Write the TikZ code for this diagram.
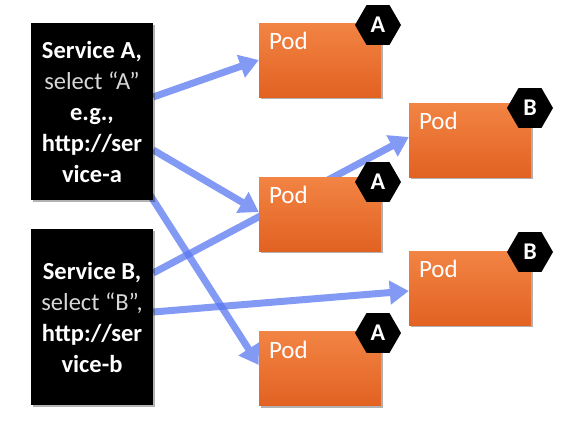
\documentclass[tikz,border=0pt]{standalone}
\usepackage{fontspec}
\setmainfont{Carlito}
\usetikzlibrary{arrows.meta,shapes.geometric,shadows}
\definecolor{arrowblue}{RGB}{90,120,240}
\definecolor{podtop}{RGB}{242,132,68}
\definecolor{podbot}{RGB}{226,98,34}
\definecolor{selgrey}{RGB}{215,215,215}
\pgfdeclarelayer{bg}
\pgfsetlayers{bg,main}
\begin{document}
\begin{tikzpicture}[x=1pt,y=-1pt,
  softshadow/.style={drop shadow={shadow xshift=1.5pt,shadow yshift=-2pt,opacity=0.3,fill=black}},
  svc/.style={fill=black, minimum width=122pt, inner sep=0pt, text=white, align=center,
    font=\fontsize{24.5}{31}\selectfont\bfseries, softshadow},
  pod/.style={top color=podtop, bottom color=podbot, minimum width=122pt, minimum height=74pt,
    inner sep=0pt, softshadow},
  podlabel/.style={text=white, font=\fontsize{25}{28}\selectfont, inner sep=0pt, anchor=base west},
  hex/.style={regular polygon, regular polygon sides=6, fill=black, minimum size=46pt,
    inner sep=0pt, text=white, font=\fontsize{24}{26}\selectfont\bfseries},
  link/.style={draw=arrowblue, line width=7pt, -{Triangle[length=19pt,width=23pt]}}
]
\useasboundingbox (0,0) rectangle (579,439);

% services
\node[svc, minimum height=177pt] (sA) at (92,111.5)
  {Service A,\\{\mdseries\color{selgrey}select “A”}\\e.g.,\\http://ser\\vice-a};
\node[svc, minimum height=176pt] (sB) at (92,317)
  {Service B,\\{\mdseries\color{selgrey}select “B”,}\\http://ser\\vice-b};

% pods
\node[pod] (p1) at (320,60) {};
\node[pod] (p2) at (320,214) {};
\node[pod] (p3) at (320,368.5) {};
\node[pod] (q1) at (470,140) {};
\node[pod] (q2) at (470,288) {};

\foreach \p in {p1,p2,p3,q1,q2}
  \node[podlabel] (\p-lbl) at ([xshift=10pt,yshift=-27pt]\p.north west) {Pod};

% hexagon badges
\node[hex] (h1) at (378,25) {A};
\node[hex] (h2) at (378,182) {A};
\node[hex] (h3) at (378,333) {A};
\node[hex] (h4) at (530,108) {B};
\node[hex] (h5) at (530,252) {B};

% connectors
\begin{pgfonlayer}{bg}
\begin{scope}[transparency group, opacity=0.75]
  \draw[link] ([yshift=14.5pt]sA.east) -- ([yshift=0pt]p1.west);
\end{scope}
\begin{scope}[transparency group, opacity=0.75]
  \draw[link] ([yshift=-38.5pt]sA.east) -- ([yshift=2pt]p2.west);
\end{scope}
\begin{scope}[transparency group, opacity=0.75]
  \draw[link] ([xshift=-3pt,yshift=5pt]sA.south east) -- ([yshift=3.5pt]p3.west);
\end{scope}
\begin{scope}[transparency group, opacity=0.75]
  \draw[link] ([yshift=44pt]sB.east) -- ([yshift=3pt]q1.west);
\end{scope}
\begin{scope}[transparency group, opacity=0.75]
  \draw[link] ([yshift=5pt]sB.east) -- ([yshift=-3pt]q2.west);
\end{scope}
\end{pgfonlayer}
\end{tikzpicture}
\end{document}
